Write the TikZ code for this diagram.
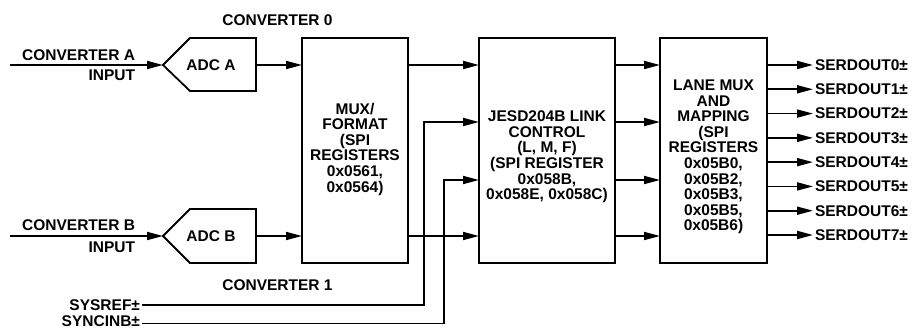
\documentclass[tikz,border=0pt]{standalone}
\usepackage{fontspec}
\setmainfont{Liberation Sans}
\usetikzlibrary{arrows.meta}
\begin{document}
\begin{tikzpicture}[x=1pt,y=-1pt,
  every node/.style={font=\bfseries\fontsize{15.5}{15.6}\selectfont, inner sep=0pt, outer sep=0pt},
  blk/.style={draw, line width=1.8pt, minimum height=225pt, minimum width=#1},
  wire/.style={line width=1.8pt},
  arr/.style={wire, -{Triangle[length=16pt,width=8pt]}},
  btxt/.style={align=center}]
\useasboundingbox (0,0) rectangle (914,328);
% rows
\coordinate (r0) at (0,65);
\coordinate (r1) at (0,122);
\coordinate (r2) at (0,180);
\coordinate (r3) at (0,236);
% blocks
\node[blk=106pt] (mux) at (355,150.5) {};
\node[blk=136pt] (jesd) at (547,150.5) {};
\node[blk=107pt] (lane) at (713.5,150.5) {};
\node[btxt] (muxt) at (355,149) {MUX/\\FORMAT\\(SPI\\REGISTERS\\0x0561,\\0x0564)};
\node[btxt] (jesdt) at (547,157) {JESD204B LINK\\CONTROL\\(L, M, F)\\(SPI REGISTER\\0x058B,\\0x058E, 0x058C)};
\node[btxt] (lanet) at (713.5,157) {LANE MUX\\AND\\MAPPING\\(SPI\\REGISTERS\\0x05B0,\\0x05B2,\\0x05B3,\\0x05B5,\\0x05B6)};
% ADCs
\coordinate (adcAtip) at (163,65);
\coordinate (adcAout) at (256,65);
\draw[wire, line join=miter] (adcAtip) -- (190,38) -- (256,38) -- (256,91) -- (190,91) -- cycle;
\node (adcA) at (211,65) {ADC A};
\coordinate (adcBtip) at (163,236);
\coordinate (adcBout) at (256,236);
\draw[wire, line join=miter] (adcBtip) -- (190,209) -- (256,209) -- (256,263) -- (190,263) -- cycle;
\node (adcB) at (211,236) {ADC B};
% inputs
\coordinate (inA) at (10,65);
\coordinate (inB) at (10,236);
\draw[arr] (inA) -- (adcAtip);
\draw[arr] (inB) -- (adcBtip);
\node[anchor=east] (cA) at (135,55) {CONVERTER A};
\node[anchor=east] (iA) at (135,75) {INPUT};
\node[anchor=east] (cB) at (135,225) {CONVERTER B};
\node[anchor=east] (iB) at (135,247) {INPUT};
\node (c0) at (277.5,20) {CONVERTER 0};
\node (c1) at (277.5,285) {CONVERTER 1};
% ADC -> MUX
\draw[arr] (adcAout) -- (mux.west |- adcAout);
\draw[arr] (adcBout) -- (mux.west |- adcBout);
% MUX -> JESD
\draw[arr] (mux.east |- r0) -- (jesd.west |- r0);
\draw[arr] (mux.east |- r3) -- (jesd.west |- r3);
% SYSREF / SYNCINB
\node[anchor=east] (sysref) at (140,305) {SYSREF±};
\node[anchor=east] (syncinb) at (140,321) {SYNCINB±};
\coordinate (sysv) at (424,122);
\coordinate (synv) at (444,180);
\coordinate (syss) at (142,305);
\coordinate (syns) at (142,323.5);
\draw[arr] (syss) -| (sysv) -- (jesd.west |- r1);
\draw[arr] (syns) -| (synv) -- (jesd.west |- r2);
% JESD -> LANE
\foreach \r in {r0,r1,r2,r3}{
  \draw[arr] (jesd.east |- \r) -- (lane.west |- \r);
}
% outputs
\foreach \i in {0,...,7}{
  \node[anchor=west] (sd\i) at (815,65+\i*24.286) {SERDOUT\i±};
  \draw[arr] (lane.east |- sd\i.west) -- ([xshift=-2pt]sd\i.west);
}
\end{tikzpicture}
\end{document}
